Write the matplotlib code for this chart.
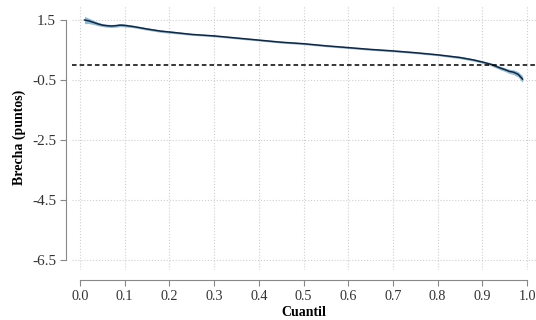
import matplotlib
matplotlib.use("Agg")
import matplotlib.pyplot as plt

# quantiles and estimated gap (points) with confidence band
cuantil = [0.01, 0.02, 0.03, 0.04, 0.05, 0.06, 0.07, 0.08, 0.09, 0.10,
           0.12, 0.15, 0.18, 0.20, 0.25, 0.30, 0.35, 0.40, 0.45, 0.50,
           0.55, 0.60, 0.65, 0.70, 0.75, 0.80, 0.85, 0.88, 0.90, 0.92,
           0.94, 0.95, 0.96, 0.97, 0.98, 0.99]
brecha = [1.50, 1.47, 1.42, 1.37, 1.33, 1.31, 1.30, 1.31, 1.33, 1.32,
          1.28, 1.20, 1.13, 1.10, 1.02, 0.97, 0.90, 0.83, 0.76, 0.71,
          0.64, 0.58, 0.52, 0.47, 0.41, 0.34, 0.25, 0.17, 0.10, 0.02,
          -0.10, -0.15, -0.21, -0.24, -0.31, -0.47]
inferior = [1.38, 1.38, 1.35, 1.31, 1.28, 1.26, 1.25, 1.26, 1.28, 1.27,
            1.24, 1.16, 1.09, 1.06, 0.99, 0.94, 0.87, 0.80, 0.73, 0.68,
            0.61, 0.55, 0.49, 0.44, 0.38, 0.31, 0.21, 0.13, 0.06, -0.03,
            -0.16, -0.21, -0.28, -0.32, -0.40, -0.58]
superior = [1.62, 1.56, 1.49, 1.43, 1.38, 1.36, 1.35, 1.36, 1.38, 1.37,
            1.32, 1.24, 1.17, 1.14, 1.05, 1.00, 0.93, 0.86, 0.79, 0.74,
            0.67, 0.61, 0.55, 0.50, 0.44, 0.37, 0.29, 0.21, 0.14, 0.07,
            -0.04, -0.09, -0.14, -0.16, -0.22, -0.36]

xticks = [0.0, 0.1, 0.2, 0.3, 0.4, 0.5, 0.6, 0.7, 0.8, 0.9, 1.0]
yticks = [1.5, -0.5, -2.5, -4.5, -6.5]

plt.rcParams["font.family"] = ["Liberation Serif", "DejaVu Serif"]

fig = plt.figure(figsize=(5.36, 3.2), dpi=100)
ax = fig.add_axes([72 / 536, 50 / 320, 464 / 536, 265 / 320])

ax.fill_between(cuantil, inferior, superior, color="#8fbcd8", lw=0)
ax.plot(cuantil, brecha, color="#17263a", lw=1.1)
ax.axhline(0, color="black", lw=1.1, ls=(0, (3, 2)))

ax.set_xlim(-0.018, 1.020)
ax.set_ylim(-6.83, 2.0)
ax.set_xticks(xticks)
ax.set_xticklabels([f"{v:.1f}" for v in xticks])
ax.set_yticks(yticks)
ax.set_yticklabels([f"{v:.1f}" for v in yticks])
ax.grid(True, color="#cfcfcf", ls=":", lw=0.8)
ax.set_axisbelow(True)

for side in ("top", "right"):
    ax.spines[side].set_visible(False)
ax.spines["left"].set_bounds(-6.5, 1.5)
ax.spines["left"].set_position(("outward", 4))
ax.spines["bottom"].set_bounds(0, 1)
ax.spines["bottom"].set_position(("outward", 7))
for side in ("left", "bottom"):
    ax.spines[side].set_color("#888888")
ax.tick_params(colors="#888888", labelcolor="#333333", length=4)
ax.tick_params(axis="y", labelsize=11)
ax.tick_params(axis="x", labelsize=10.2)

ax.set_xlabel("Cuantil", fontweight="bold", fontsize=10, labelpad=2)
ax.set_ylabel("Brecha (puntos)", fontweight="bold", fontsize=10, labelpad=4)

fig.savefig("out.png", dpi=100)
